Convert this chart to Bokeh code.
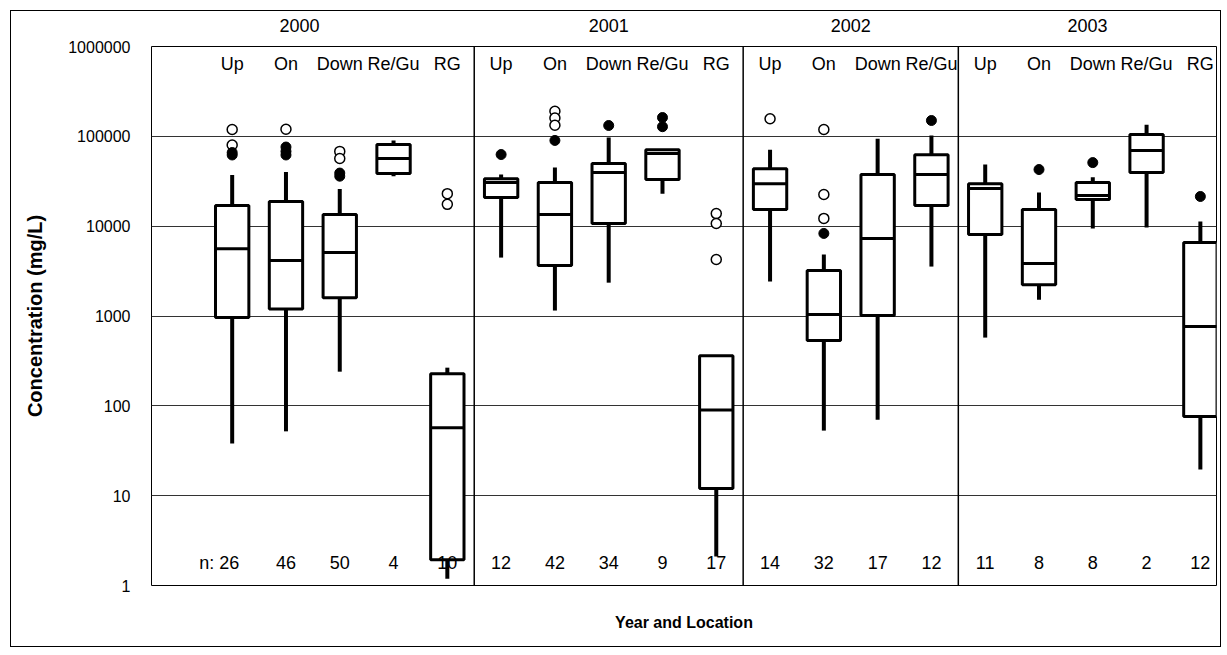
from bokeh.plotting import figure
from bokeh.models import (Range1d, LinearAxis, NumeralTickFormatter, FixedTicker, Span,
                          ColumnDataSource)
from bokeh.core.properties import value
from bokeh.embed import file_html
from bokeh.resources import INLINE

FONT = "Liberation Sans"
FS = "18px"

# ---------------- data ----------------
years = ["2000", "2001", "2002", "2003"]
box_year = ["2000"] * 5 + ["2001"] * 5 + ["2002"] * 4 + ["2003"] * 5
box_loc = ["Up", "On", "Down", "Re/Gu", "RG",
           "Up", "On", "Down", "Re/Gu", "RG",
           "Up", "On", "Down", "Re/Gu",
           "Up", "On", "Down", "Re/Gu", "RG"]
n_counts = [26, 46, 50, 4, 10, 12, 42, 34, 9, 17, 14, 32, 17, 12, 11, 8, 8, 2, 12]

w_low = [38, 52, 240, 36000, 1.19, 4470, 1150, 2350, 23000, 2.1,
         2420, 53, 70, 3550, 575, 1520, 9400, 9660, 19.5]
q1 = [960, 1200, 1600, 38500, 1.94, 20800, 3640, 10700, 33000, 12,
      15300, 532, 1010, 17000, 8100, 2230, 19800, 39700, 76]
median = [5600, 4140, 5080, 56600, 57, 30600, 13500, 39700, 64500, 90,
          29600, 1040, 7280, 37600, 26200, 3830, 21900, 69500, 762]
q3 = [17000, 18800, 13500, 81000, 228, 33800, 30600, 50000, 71000, 360,
      43700, 3200, 37600, 62500, 29600, 15300, 30600, 105000, 6600]
w_high = [37000, 40000, 26000, 90000, 266, 37600, 45000, 97000, 71000, 360,
          71000, 4830, 94000, 102000, 48500, 23700, 35000, 135000, 11250]

# outliers: index of box, value
open_box = [0, 0, 1, 2, 2, 4, 4, 6, 6, 6, 9, 9, 9, 10, 11, 11, 11]
open_val = [119000, 80000, 120000, 68000, 56600, 23000, 17500,
            190000, 160000, 133000, 13800, 10700, 4250, 157000, 119000, 22500, 12200]
filled_box = [0, 0, 1, 1, 1, 2, 2, 5, 6, 7, 8, 8, 11, 13, 15, 16, 18]
filled_val = [66000, 62000, 76000, 68000, 62000, 39000, 36000, 62700, 90000,
              132000, 162000, 128000, 8300, 150000, 42700, 51000, 21400]

# ---------------- positions ----------------
xs = [i + 1.5 for i in range(len(box_loc))]
half = 0.31
X_END = 19.80

seps = []
for i in range(1, len(box_year)):
    if box_year[i] != box_year[i - 1]:
        seps.append(i + 1.0)
edges = [0.0] + seps + [X_END]
year_x = [round((edges[k] + edges[k + 1]) / 2 - (0.25 if k == 0 else 0.0), 3)
          for k in range(len(years))]

p = figure(width=1211, height=637, y_axis_type="log",
           x_range=Range1d(0, X_END), y_range=Range1d(1, 1e6),
           output_backend="svg", toolbar_location=None,
           min_border_left=140, min_border_right=6, min_border_top=35, min_border_bottom=63)
p.styles = {"border": "1px solid black", "margin-left": "10px", "margin-top": "10px"}

p.outline_line_color = "black"
p.outline_line_width = 1
p.background_fill_color = "white"
p.border_fill_color = "white"

# year axis above the frame
year_axis = LinearAxis(ticker=FixedTicker(ticks=year_x),
                       major_label_overrides={x: y for x, y in zip(year_x, years)})
year_axis.axis_line_color = None
year_axis.major_tick_line_color = None
year_axis.minor_tick_line_color = None
year_axis.major_label_standoff = 9
year_axis.major_label_text_font = FONT
year_axis.major_label_text_font_size = FS
year_axis.major_label_text_color = "black"
p.add_layout(year_axis, "above")

# bottom axis: title only
xa = p.below[0]
xa.axis_label = "Year and Location"
xa.ticker = FixedTicker(ticks=[])
xa.major_tick_line_color = None
xa.minor_tick_line_color = None
xa.axis_line_color = None
xa.axis_label_standoff = 28
xa.axis_label_text_font = FONT
xa.axis_label_text_font_style = "bold"
xa.axis_label_text_font_size = "16px"
xa.axis_label_text_color = "black"

p.yaxis.axis_label = "Concentration (mg/L)"
p.yaxis.ticker = FixedTicker(ticks=[1, 10, 100, 1000, 10000, 100000, 1000000])
p.yaxis.formatter = NumeralTickFormatter(format="0")
p.yaxis.major_tick_line_color = None
p.yaxis.minor_tick_line_color = None
p.yaxis.axis_line_color = None
p.yaxis.major_label_standoff = 15
p.yaxis.major_label_text_font = FONT
p.yaxis.major_label_text_font_size = "16px"
p.yaxis.major_label_text_color = "black"
p.yaxis.axis_label_standoff = 19
p.yaxis.axis_label_text_font = FONT
p.yaxis.axis_label_text_font_style = "bold"
p.yaxis.axis_label_text_font_size = "20px"
p.yaxis.axis_label_text_color = "black"

p.xgrid.grid_line_color = None
p.ygrid.grid_line_color = "#333333"
p.ygrid.grid_line_width = 1

for s in seps:
    p.add_layout(Span(location=s, dimension="height", line_color="black", line_width=1.5))

src = ColumnDataSource(dict(x=xs, left=[x - half for x in xs], right=[x + half for x in xs],
                            low=w_low, q1=q1, med=median, q3=q3, high=w_high,
                            loc=box_loc))

# whiskers
p.segment(x0="x", x1="x", y0="q3", y1="high", source=src, line_color="black", line_width=4)
p.segment(x0="x", x1="x", y0="low", y1="q1", source=src, line_color="black", line_width=4)
# boxes
p.quad(left="left", right="right", bottom="q1", top="q3", source=src,
       fill_color="white", line_color="black", line_width=3)
p.segment(x0="left", x1="right", y0="med", y1="med", source=src, line_color="black", line_width=3)

# outliers
p.scatter([xs[i] for i in open_box], open_val, marker="circle", size=10,
          fill_color="white", line_color="black", line_width=1.5)
p.scatter([xs[i] for i in filled_box], filled_val, marker="circle", size=10,
          fill_color="black", line_color="black", line_width=1)

# location labels
p.text(x="x", y=6.4e5, text="loc", source=src, text_align="center", text_baseline="middle",
       text_font=value(FONT), text_font_size=FS, text_color="black")
# n labels
ntxt = [str(v) for v in n_counts]
p.text(x=xs[1:], y=[1.8] * (len(xs) - 1), text=ntxt[1:], text_align="center", text_baseline="middle",
       text_font=value(FONT), text_font_size=FS, text_color="black")
p.text(x=[xs[0] + 0.13], y=[1.8], text=["n: " + ntxt[0]], text_align="right", text_baseline="middle",
       text_font=value(FONT), text_font_size=FS, text_color="black")

open("out.html", "w").write(file_html(p, INLINE))
